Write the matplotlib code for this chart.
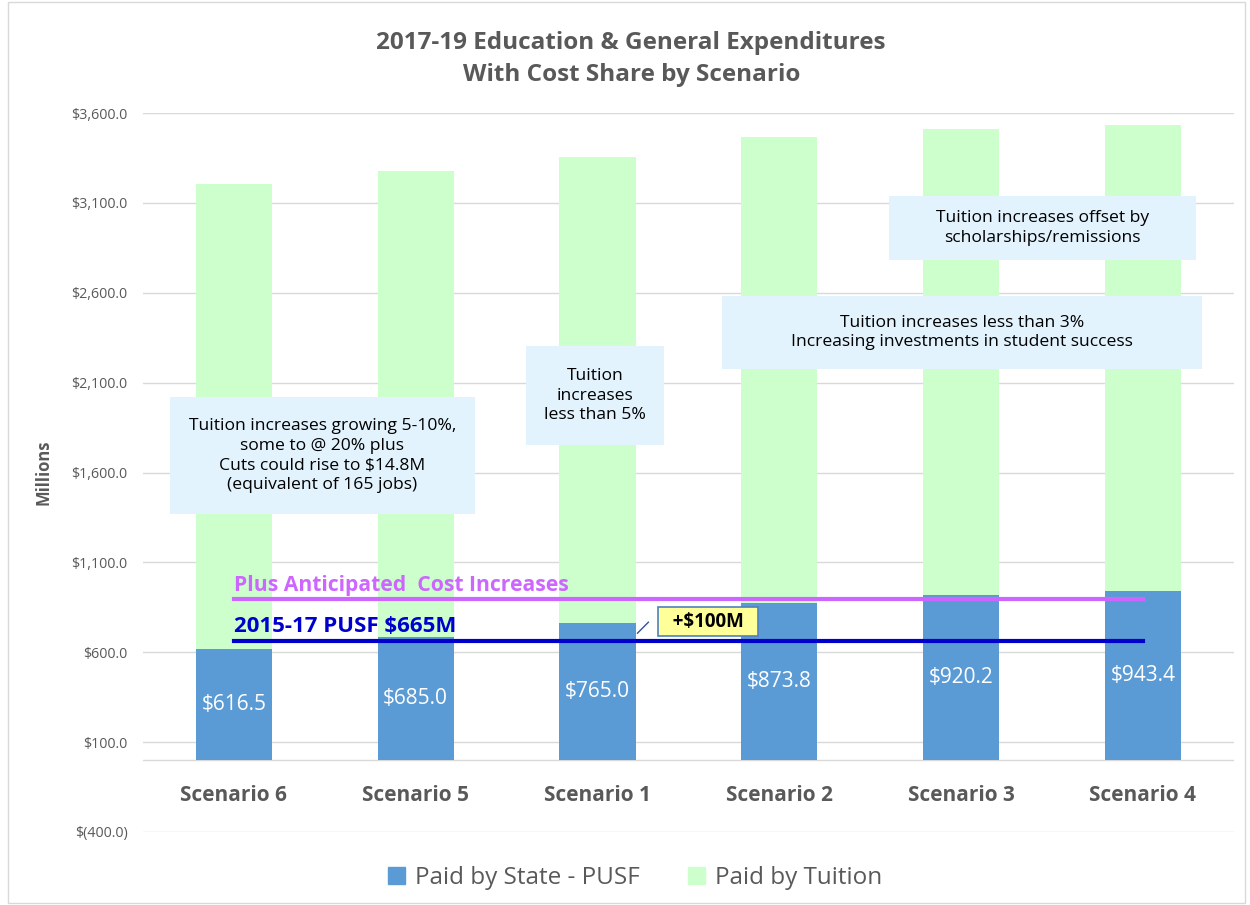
import numpy as np
import matplotlib.pyplot as plt
from matplotlib.patches import Rectangle, Patch

plt.rcParams['font.family'] = ['Open Sans', 'DejaVu Sans']

# data
scenarios = ['Scenario 6', 'Scenario 5', 'Scenario 1', 'Scenario 2', 'Scenario 3', 'Scenario 4']
pusf = [616.5, 685.0, 765.0, 873.8, 920.2, 943.4]
tuition = [2588, 2591, 2590, 2591, 2590, 2590]
pusf_2015 = 665
cost_line = 897
yticks = np.arange(-400, 3601, 500)

BLUE = '#5B9BD5'
GREEN = '#CCFFCC'
GRAY = '#595959'
BOX = '#E3F3FD'

fig = plt.figure(figsize=(12.5, 9.05), dpi=100)
ax = fig.add_axes([0.1144, 0.0807, 0.8726, 0.7944])

x = np.arange(len(scenarios))
ax.bar(x, pusf, width=0.42, color=BLUE, zorder=2)
ax.bar(x, tuition, width=0.42, bottom=pusf, color=GREEN, zorder=2)

for xi, v in zip(x, pusf):
    ax.text(xi, v / 2, '${:,.1f}'.format(v), ha='center', va='center',
            color='white', fontsize=15, zorder=5)

for xi, name in zip(x, scenarios):
    ax.text(xi, -195, name, ha='center', va='center', color=GRAY,
            fontsize=15, fontweight='bold')

ax.set_xlim(-0.5, 5.5)
ax.set_ylim(-400, 3600)
ax.set_xticks([])
ax.set_yticks(yticks)
ax.set_yticklabels(['$({:,.1f})'.format(-t) if t < 0 else '${:,.1f}'.format(t) for t in yticks])
ax.tick_params(axis='y', length=0, labelsize=10.3, labelcolor=GRAY, pad=11)
ax.grid(axis='y', color='#D9D9D9', linewidth=1, zorder=0)
ax.axhline(0, color='#D9D9D9', linewidth=1, zorder=1)
for s in ax.spines.values():
    s.set_visible(False)
ax.set_ylabel('Millions', fontsize=12, fontweight='bold', color=GRAY, labelpad=14)

# reference lines
ax.plot([0, 5], [cost_line, cost_line], color='#CC66FF', linewidth=3, zorder=4)
ax.plot([0, 5], [pusf_2015, pusf_2015], color='#0000CC', linewidth=3, zorder=4)
ax.text(0, cost_line + 18, 'Plus Anticipated  Cost Increases', color='#CC66FF',
        fontsize=15.2, fontweight='bold', va='bottom', ha='left', zorder=5)
ax.text(0, pusf_2015 + 18, '2015-17 PUSF $665M', color='#0000CC',
        fontsize=16, fontweight='bold', va='bottom', ha='left', zorder=5)

ax.plot([2.22, 2.28], [706, 767], color='#2E5597', linewidth=1, zorder=5)
ax.text(2.61, 770, '  +$100M  ', fontsize=13.5, fontweight='bold', ha='center', va='center',
        zorder=6, bbox=dict(boxstyle='square,pad=0.25', fc='#FFFF99', ec='#4F81BD', lw=1.2))

# annotation boxes
notes = [
    ('Tuition increases growing 5-10%,\nsome to @ 20% plus\nCuts could rise to $14.8M\n(equivalent of 165 jobs)',
     170, 397, 475, 514),
    ('Tuition\nincreases\nless than 5%', 526, 346, 664, 445),
    ('Tuition increases less than 3%\nIncreasing investments in student success', 722, 296, 1202, 369),
    ('Tuition increases offset by\nscholarships/remissions', 889, 196, 1196, 260),
]
W, H = 1250, 905
for txt, x0, y0, x1, y1 in notes:
    fig.patches.append(Rectangle((x0 / W, 1 - y1 / H), (x1 - x0) / W, (y1 - y0) / H,
                                 transform=fig.transFigure, fc=BOX, ec='none', zorder=3))
    fig.text((x0 + x1) / 2 / W, 1 - (y0 + y1) / 2 / H, txt, ha='center', va='center',
             fontsize=12.6, linespacing=1.3, color='black', zorder=4)

fig.text(0.505, 0.935, '2017-19 Education & General Expenditures\nWith Cost Share by Scenario',
         ha='center', va='center', fontsize=17.5, fontweight='bold', color=GRAY, linespacing=1.45)

handles = [Patch(color=BLUE, label='Paid by State - PUSF'), Patch(color=GREEN, label='Paid by Tuition')]
fig.legend(handles=handles, loc='center', bbox_to_anchor=(0.508, 0.03), ncol=2, frameon=False,
           fontsize=17.5, labelcolor=GRAY, handlelength=0.7, handleheight=0.7, columnspacing=2.0,
           handletextpad=0.4)

fig.patches.append(Rectangle((0.006, 0.002), 0.99, 0.996, transform=fig.transFigure,
                             fill=False, ec='#D9D9D9', lw=1))

fig.savefig('out.png', dpi=100)
